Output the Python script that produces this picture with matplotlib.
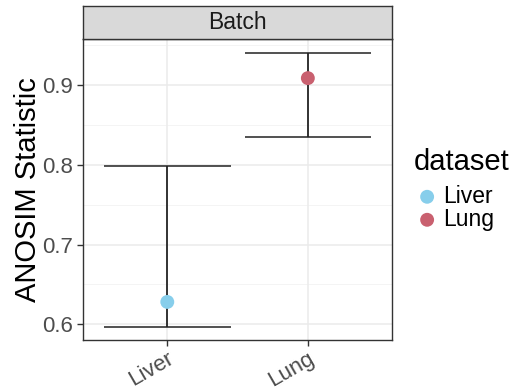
import matplotlib
matplotlib.use('Agg')
import matplotlib.pyplot as plt

plt.rcParams['font.family'] = ['Liberation Sans', 'DejaVu Sans']

datasets = ['Liver', 'Lung']
anosim = [0.628, 0.909]
lower = [0.597, 0.835]
upper = [0.799, 0.940]
colors = ['#87CEEB', '#C9606F']
panel_title = 'Batch'

fig = plt.figure(figsize=(5.12, 3.91), dpi=100)
ax = fig.add_axes([0.162, 0.130, 0.604, 0.770])
strip = fig.add_axes([0.162, 0.900, 0.604, 0.085])

xs = list(range(1, len(datasets) + 1))

# grid
for y in [0.6, 0.7, 0.8, 0.9]:
    ax.axhline(y, color='#EBEBEB', lw=1.1, zorder=0)
for y in [0.65, 0.75, 0.85, 0.95]:
    ax.axhline(y, color='#F3F3F3', lw=0.6, zorder=0)
for x in xs:
    ax.axvline(x, color='#EBEBEB', lw=1.1, zorder=0)

# error bars
ax.vlines(xs, lower, upper, color='black', lw=1.1, zorder=2)
ax.hlines(lower, [x - 0.45 for x in xs], [x + 0.45 for x in xs], color='#222222', lw=1.1, zorder=2)
ax.hlines(upper, [x - 0.45 for x in xs], [x + 0.45 for x in xs], color='#222222', lw=1.1, zorder=2)

for x, y, c, name in zip(xs, anosim, colors, datasets):
    ax.scatter([x], [y], s=100, color=c, edgecolor='none', zorder=3, label=name)

ax.set_xlim(0.4, 2.6)
ax.set_ylim(0.58, 0.958)
ax.set_yticks([0.6, 0.7, 0.8, 0.9])
ax.set_yticklabels(['0.6', '0.7', '0.8', '0.9'])
ax.set_xticks(xs)
ax.set_xticklabels(datasets, rotation=30, ha='right', rotation_mode='anchor')
ax.tick_params(axis='both', colors='#333333', labelcolor='#4D4D4D', labelsize=16, length=4, width=1)
ax.tick_params(axis='x', pad=2)
for s in ax.spines.values():
    s.set_color('#333333')
    s.set_linewidth(1)
ax.set_ylabel('ANOSIM Statistic', fontsize=21, labelpad=0)

# strip
strip.set_facecolor('#D9D9D9')
strip.set_xticks([])
strip.set_yticks([])
for s in strip.spines.values():
    s.set_color('#333333')
    s.set_linewidth(1)
strip.text(0.5, 0.5, panel_title, ha='center', va='center', fontsize=16.5, color='#1A1A1A')

leg = ax.legend(title='dataset', loc='center left', bbox_to_anchor=(0.785, 0.515),
                bbox_transform=fig.transFigure, frameon=False, fontsize=16.5,
                title_fontsize=21, handletextpad=0.1, labelspacing=0.0,
                borderpad=0, handlelength=1.2)
leg._legend_box.align = 'left'
leg._legend_box.sep = 6

fig.savefig('out.png', dpi=100)
